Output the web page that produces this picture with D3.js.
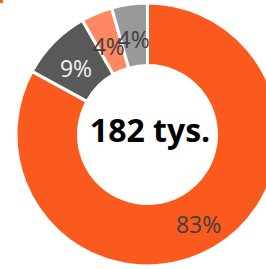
<!DOCTYPE html>
<html><head><meta charset="utf-8">
<script src="https://cdn.jsdelivr.net/npm/d3@7"></script>
<style>html,body{margin:0;padding:0;background:#fff;overflow:hidden}</style>
</head><body>
<svg id="c" width="266" height="269"></svg>
<script>
const categories = ["A", "B", "C", "D"];
const values = [151, 16, 7, 8];
const colors = ["#FA5A1E", "#595959", "#FF8762", "#999999"];
const labelColors = ["#404040", "#F2F2F2", "#404040", "#404040"];
const totalLabel = "182 tys.";

const svg = d3.select("#c");
const cx = 147.5, cy = 134.5, outerR = 131.5, innerR = 69;
const total = d3.sum(values);

// partially visible legend marker
svg.append("rect").attr("x", -4).attr("y", -4).attr("width", 7).attr("height", 7).attr("fill", colors[0]);

const g = svg.append("g").attr("transform", `translate(${cx},${cy})`);
const pie = d3.pie().value(d => d).sort(null);
const arcs = pie(values);
const arc = d3.arc().innerRadius(innerR).outerRadius(outerR);

g.selectAll("path").data(arcs).enter().append("path")
  .attr("d", arc)
  .attr("fill", (d, i) => colors[i])
  .attr("stroke", "#fff").attr("stroke-width", 3).attr("stroke-linejoin", "miter");

g.selectAll("text.lbl").data(arcs).enter().append("text")
  .attr("class", "lbl")
  .attr("transform", d => `translate(${arc.centroid(d)})`)
  .attr("text-anchor", "middle")
  .attr("dy", "0.55em")
  .attr("font-family", "'Open Sans', 'Noto Sans', sans-serif")
  .attr("font-size", 23)
  .attr("fill", (d, i) => labelColors[i])
  .text(d => Math.round(d.value / total * 100) + "%");

g.append("text")
  .attr("text-anchor", "middle")
  .attr("x", 2.5).attr("y", 7.5)
  .attr("font-family", "'Open Sans', 'Noto Sans', sans-serif")
  .attr("font-weight", "bold")
  .attr("font-size", 32)
  .attr("fill", "#000")
  .text(totalLabel);
</script>
</body></html>
